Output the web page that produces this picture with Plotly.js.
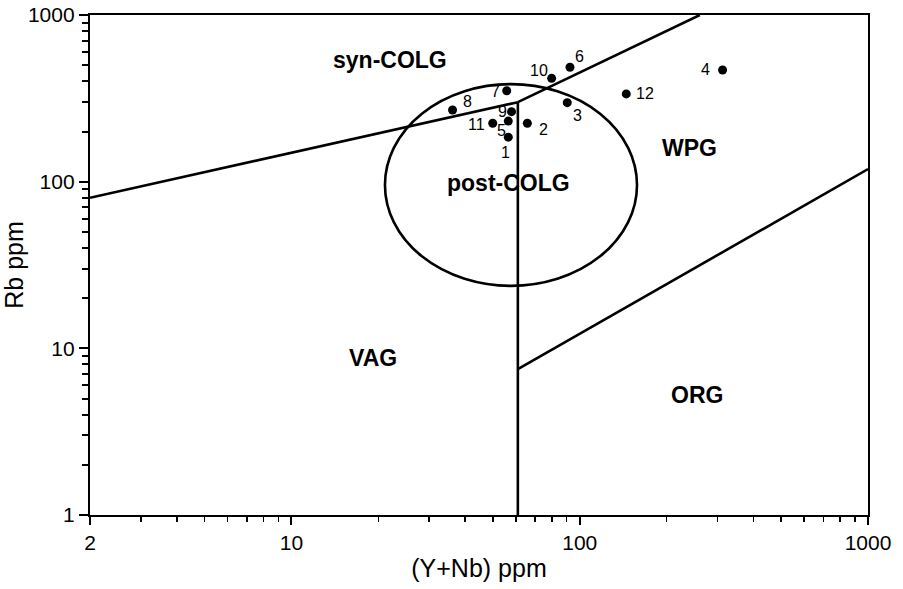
<!DOCTYPE html>
<html>
<head>
<meta charset="utf-8">
<script src="https://cdn.plot.ly/plotly-3.0.1.min.js"></script>
<style>html,body{margin:0;padding:0;background:#fff;}#chart{width:903px;height:589px;}</style>
</head>
<body>
<div id="chart"></div>
<script>
// Sample points: Y+Nb (ppm) and Rb (ppm)
var sampleLabels = ["1","2","3","4","5","6","7","8","9","10","11","12"];
var sampleYNb   = [56.5, 65.8, 90.5, 313, 56.5, 92.5, 55.8, 36.2, 58.0, 79.9, 49.9, 145];
var sampleRb    = [185, 224, 298, 468, 231, 486, 351, 269, 263, 417, 224, 336];
// label offsets in px (dx, dy; dy positive = down)
var labelDX = [-3, 16, 10, -17, -7, 10, -11, 15, -9, -13, -16, 19];
var labelDY = [15, 6, 13, 0, 9, -11, 1, -9, 0, -8, 1, 0];

// Discrimination boundaries (Pearce et al.)
var synVagX = [2, 61],   synVagY = [80, 300];
var synWpgX = [61, 261], synWpgY = [300, 1000];
var vagWpgX = [61, 61],  vagWpgY = [1, 300];
var wpgOrgX = [61, 1000], wpgOrgY = [7.5, 119];
// post-COLG ellipse extent
var postX = [21.1, 158], postY = [23.7, 385];

// Field names and positions
var fieldNames = ["syn-COLG", "post-COLG", "WPG", "VAG", "ORG"];
var fieldX = [22.0, 56.4, 241, 19.2, 255];
var fieldY = [537, 98, 159, 8.75, 5.25];

var xTicks = [2, 10, 100, 1000];
var yTicks = [1, 10, 100, 1000];
var xMinor = [3,4,5,6,7,8,9,20,30,40,50,60,70,80,90,200,300,400,500,600,700,800,900];
var yMinor = [2,3,4,5,6,7,8,9,20,30,40,50,60,70,80,90,200,300,400,500,600,700,800,900];

var lineStyle = {color: "#000", width: 2.6};
function boundary(x, y) {
  return {x: x, y: y, type: "scatter", mode: "lines", line: lineStyle, hoverinfo: "skip", showlegend: false};
}
var traces = [
  boundary(synVagX, synVagY),
  boundary(synWpgX, synWpgY),
  boundary(vagWpgX, vagWpgY),
  boundary(wpgOrgX, wpgOrgY),
  {x: sampleYNb, y: sampleRb, type: "scatter", mode: "markers",
   marker: {color: "#000", size: 9}, showlegend: false, cliponaxis: false}
];

var annotations = [];
for (var i = 0; i < sampleLabels.length; i++) {
  annotations.push({
    x: Math.log10(sampleYNb[i]), y: Math.log10(sampleRb[i]), xref: "x", yref: "y",
    text: sampleLabels[i], showarrow: false, xshift: labelDX[i], yshift: -labelDY[i],
    font: {family: "Liberation Sans, Arial, sans-serif", size: 16, color: "#000"}
  });
}
for (var j = 0; j < fieldNames.length; j++) {
  annotations.push({
    x: Math.log10(fieldX[j]), y: Math.log10(fieldY[j]), xref: "x", yref: "y",
    text: "<b>" + fieldNames[j] + "</b>", showarrow: false,
    font: {family: "Liberation Sans, Arial, sans-serif", size: 23, color: "#000"}
  });
}

var titleFont = {family: "Liberation Sans, Arial, sans-serif", size: 25, color: "#000"};
var tickFont = {family: "Liberation Sans, Arial, sans-serif", size: 21, color: "#000"};

var layout = {
  width: 903, height: 589,
  margin: {l: 90, r: 35, t: 15, b: 74},
  paper_bgcolor: "#fff", plot_bgcolor: "#fff",
  showlegend: false,
  xaxis: {
    type: "log", range: [Math.log10(2), 3],
    showgrid: false, zeroline: false,
    showline: true, linecolor: "#000", linewidth: 2.2, mirror: true,
    ticks: "outside", ticklen: 8, tickwidth: 2, tickcolor: "#000",
    tickmode: "array", tickvals: xTicks, ticktext: xTicks.map(String), tickfont: tickFont,
    minor: {tickmode: "array", tickvals: xMinor, ticks: "outside", ticklen: 5, tickwidth: 1.5, tickcolor: "#000", showgrid: false},
    title: {text: "(Y+Nb) ppm", standoff: 6, font: titleFont}
  },
  yaxis: {
    type: "log", range: [0, 3],
    showgrid: false, zeroline: false,
    showline: true, linecolor: "#000", linewidth: 2.2, mirror: true,
    ticks: "outside", ticklen: 9, tickwidth: 2, tickcolor: "#000",
    tickmode: "array", tickvals: yTicks, ticktext: yTicks.map(String), tickfont: tickFont,
    minor: {tickmode: "array", tickvals: yMinor, ticks: "outside", ticklen: 6, tickwidth: 2, tickcolor: "#000", showgrid: false},
    title: {text: "Rb ppm", standoff: 0, font: titleFont}
  },
  shapes: [{
    type: "circle", xref: "x", yref: "y",
    x0: postX[0], x1: postX[1], y0: postY[0], y1: postY[1],
    line: {color: "#000", width: 2.6}, fillcolor: "rgba(0,0,0,0)"
  }],
  annotations: annotations
};

Plotly.newPlot("chart", traces, layout, {displayModeBar: false, staticPlot: true});
</script>
</body>
</html>
